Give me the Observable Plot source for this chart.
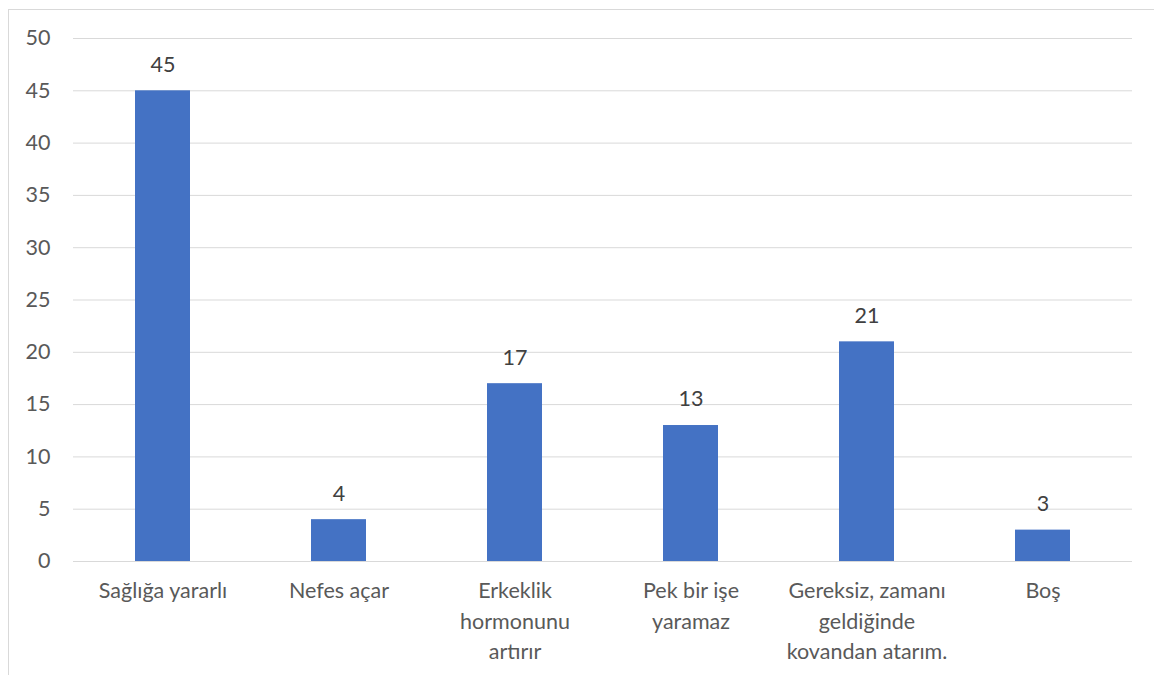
<!DOCTYPE html>
<html>
<head>
<meta charset="utf-8">
<script src="https://cdn.jsdelivr.net/npm/d3@7"></script>
<script src="https://cdn.jsdelivr.net/npm/@observablehq/plot@0.6"></script>
<style>
  html, body { margin: 0; padding: 0; background: #fff; overflow: hidden; }
  #wrap { position: relative; width: 1154px; height: 675px; }
  #border { position: absolute; left: 8px; top: 9px; width: 1200px; height: 700px; border: 1px solid #d9d9d9; box-sizing: border-box; }
  #chart { position: absolute; left: 0; top: 0; }
</style>
</head>
<body>
<div id="wrap"><div id="border"></div><div id="chart"></div></div>
<script>
const categories = [
  "Sağlığa yararlı",
  "Nefes açar",
  "Erkeklik\nhormonunu\nartırır",
  "Pek bir işe\nyaramaz",
  "Gereksiz, zamanı\ngeldiğinde\nkovandan atarım.",
  "Boş"
];
const values = [45, 4, 17, 13, 21, 3];
const yTicks = [0, 5, 10, 15, 20, 25, 30, 35, 40, 45, 50];

const data = categories.map((c, i) => ({category: c, value: values[i]}));

const FS = 21.5;
const chart = Plot.plot({
  width: 1154,
  height: 675,
  marginLeft: 73,
  marginRight: 22,
  marginTop: 38,
  marginBottom: 114,
  style: {fontFamily: "Lato, 'Open Sans', sans-serif", fontSize: FS + "px", color: "#595959", background: "transparent"},
  x: {domain: categories, paddingInner: 0.69, paddingOuter: 0.345, label: null},
  y: {domain: [0, 50], label: null},
  marks: [
    Plot.gridY(yTicks, {stroke: "#d9d9d9", strokeOpacity: 1, strokeWidth: 1}),
    Plot.barY(data, {x: "category", y: "value", fill: "#4472c4"}),
    Plot.text(data, {x: "category", y: "value", text: d => String(d.value), dy: -26, fill: "#404040", fontSize: FS}),
    Plot.axisY(yTicks, {tickSize: 0, tickPadding: 23, fill: "#595959", fontSize: FS, label: null}),
    Plot.axisX({tickSize: 0, tickPadding: 15, fill: "#595959", fontSize: FS, lineHeight: 1.42, label: null})
  ]
});
document.getElementById("chart").appendChild(chart);
</script>
</body>
</html>
